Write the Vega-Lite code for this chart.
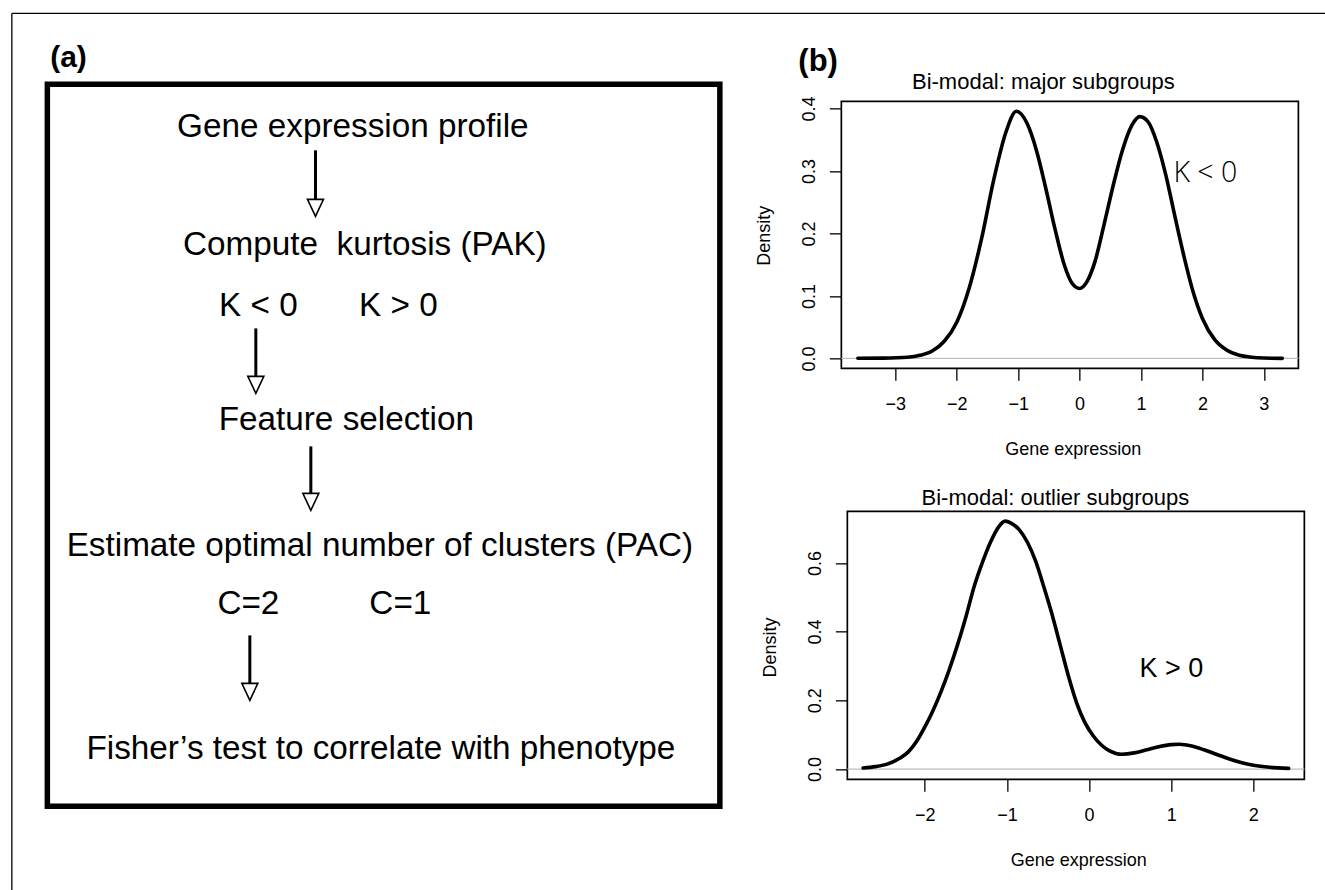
{
  "$schema": "https://vega.github.io/schema/vega-lite/v6.json",
  "background": "white",
  "padding": {"left": 10.35, "top": 12.35, "right": 0, "bottom": 0},
  "autosize": {"type": "pad"},
  "config": {
    "view": {"stroke": null},
    "font": "Liberation Sans",
    "text": {"font": "Liberation Sans", "color": "black"},
    "axis": {
      "domain": false, "grid": false, "ticks": true,
      "tickColor": "black", "tickWidth": 1.3, "tickSize": 12,
      "labelFont": "Liberation Sans", "labelFontSize": 18, "labelColor": "black",
      "labelOverlap": false, "labelFlush": false, "labelBound": false,
      "titleFont": "Liberation Sans", "titleFontSize": 18, "titleFontWeight": "normal", "titleColor": "black"
    },
    "axisX": {"labelBaseline": "alphabetic", "labelPadding": 29.5, "titleBaseline": "alphabetic", "titleAlign": "center", "titleY": 86.5},
    "axisY": {"labelAngle": 270, "labelAlign": "center", "labelBaseline": "alphabetic", "labelPadding": 15, "titleAngle": 270, "titleAlign": "center", "titleBaseline": "alphabetic", "titleX": -72}
  },
  "datasets": {
    "steps": [
      {"label": "Gene expression profile", "x": 45.43, "y": 7.27},
      {"label": "Compute\u00a0 kurtosis (PAK)", "x": 47.21, "y": 23.68},
      {"label": "K < 0", "x": 31.38, "y": 32.09},
      {"label": "K > 0", "x": 52.19, "y": 32.09},
      {"label": "Feature selection", "x": 44.46, "y": 47.92},
      {"label": "Estimate optimal number of clusters (PAC)", "x": 49.44, "y": 65.33},
      {"label": "C=2", "x": 29.89, "y": 73.41},
      {"label": "C=1", "x": 52.49, "y": 73.41},
      {"label": "Fisher’s test to correlate with phenotype", "x": 49.59, "y": 93.39}
    ],
    "arrows": [
      {"x": 39.87, "top": 9.14, "base": 15.93, "head": 17.11},
      {"x": 31.0, "top": 33.8, "base": 40.44, "head": 41.62},
      {"x": 39.18, "top": 50.14, "base": 56.65, "head": 57.83},
      {"x": 30.11, "top": 76.32, "base": 82.96, "head": 84.14}
    ],
    "top": [
      {"x": -3.61, "density": 0.0003}, {"x": -3.2, "density": 0.0006}, {"x": -2.8, "density": 0.002},
      {"x": -2.6, "density": 0.005}, {"x": -2.4, "density": 0.012}, {"x": -2.2, "density": 0.028},
      {"x": -2.0, "density": 0.058}, {"x": -1.8, "density": 0.112}, {"x": -1.6, "density": 0.19},
      {"x": -1.4, "density": 0.285}, {"x": -1.2, "density": 0.362}, {"x": -1.03, "density": 0.3955},
      {"x": -0.85, "density": 0.375}, {"x": -0.7, "density": 0.332}, {"x": -0.55, "density": 0.272},
      {"x": -0.4, "density": 0.207}, {"x": -0.25, "density": 0.15}, {"x": -0.12, "density": 0.12},
      {"x": 0.0, "density": 0.112}, {"x": 0.12, "density": 0.123}, {"x": 0.25, "density": 0.155},
      {"x": 0.4, "density": 0.215}, {"x": 0.55, "density": 0.278}, {"x": 0.7, "density": 0.334},
      {"x": 0.85, "density": 0.373}, {"x": 0.98, "density": 0.387}, {"x": 1.12, "density": 0.378},
      {"x": 1.25, "density": 0.348}, {"x": 1.4, "density": 0.295}, {"x": 1.55, "density": 0.228},
      {"x": 1.7, "density": 0.163}, {"x": 1.85, "density": 0.106}, {"x": 2.0, "density": 0.064},
      {"x": 2.2, "density": 0.03}, {"x": 2.4, "density": 0.013}, {"x": 2.6, "density": 0.005},
      {"x": 2.8, "density": 0.002}, {"x": 3.0, "density": 0.0007}, {"x": 3.3, "density": 0.0002}
    ],
    "bottom": [
      {"x": -2.75, "density": 0.003}, {"x": -2.6, "density": 0.007}, {"x": -2.45, "density": 0.015},
      {"x": -2.3, "density": 0.032}, {"x": -2.2, "density": 0.05}, {"x": -2.1, "density": 0.08},
      {"x": -2.0, "density": 0.122}, {"x": -1.9, "density": 0.17}, {"x": -1.8, "density": 0.226},
      {"x": -1.7, "density": 0.29}, {"x": -1.6, "density": 0.362}, {"x": -1.5, "density": 0.442},
      {"x": -1.4, "density": 0.53}, {"x": -1.3, "density": 0.6}, {"x": -1.2, "density": 0.66},
      {"x": -1.1, "density": 0.705}, {"x": -1.02, "density": 0.7215}, {"x": -0.95, "density": 0.716},
      {"x": -0.85, "density": 0.697}, {"x": -0.75, "density": 0.66}, {"x": -0.65, "density": 0.605},
      {"x": -0.55, "density": 0.53}, {"x": -0.45, "density": 0.45}, {"x": -0.35, "density": 0.36},
      {"x": -0.25, "density": 0.27}, {"x": -0.15, "density": 0.192}, {"x": -0.05, "density": 0.135},
      {"x": 0.05, "density": 0.097}, {"x": 0.15, "density": 0.07}, {"x": 0.25, "density": 0.053},
      {"x": 0.4, "density": 0.043}, {"x": 0.55, "density": 0.047}, {"x": 0.7, "density": 0.056},
      {"x": 0.85, "density": 0.065}, {"x": 1.0, "density": 0.071}, {"x": 1.1, "density": 0.072},
      {"x": 1.25, "density": 0.067}, {"x": 1.4, "density": 0.056}, {"x": 1.55, "density": 0.043},
      {"x": 1.7, "density": 0.03}, {"x": 1.85, "density": 0.019}, {"x": 2.0, "density": 0.011},
      {"x": 2.2, "density": 0.005}, {"x": 2.43, "density": 0.002}
    ]
  },
  "spacing": 121,
  "bounds": "flush",
  "hconcat": [
    {
      "width": 672.5,
      "height": 722,
      "layer": [
        {
          "data": {"values": [{}]},
          "mark": {"type": "rule", "color": "black", "strokeWidth": 1.3},
          "encoding": {
            "x": {"datum": -5.28, "type": "quantitative", "scale": {"domain": [0, 100], "nice": false, "zero": false}, "axis": null},
            "x2": {"datum": 250},
            "y": {"datum": -9.83, "type": "quantitative", "scale": {"domain": [0, 100], "nice": false, "zero": false, "reverse": true}, "axis": null}
          }
        },
        {
          "data": {"values": [{}]},
          "mark": {"type": "rule", "color": "black", "strokeWidth": 1.3},
          "encoding": {
            "x": {"datum": -5.28, "type": "quantitative", "scale": {"domain": [0, 100], "nice": false, "zero": false}, "axis": null},
            "y": {"datum": -9.83, "type": "quantitative", "scale": {"domain": [0, 100], "nice": false, "zero": false, "reverse": true}, "axis": null},
            "y2": {"datum": 140}
          }
        },
        {
          "data": {"values": [{}]},
          "mark": {"type": "rect", "fill": "white", "fillOpacity": 0, "stroke": "black", "strokeWidth": 5.5},
          "encoding": {
            "x": {"datum": 0, "type": "quantitative", "scale": {"domain": [0, 100], "nice": false, "zero": false}, "axis": null},
            "x2": {"datum": 100},
            "y": {"datum": 0, "type": "quantitative", "scale": {"domain": [0, 100], "nice": false, "zero": false, "reverse": true}, "axis": null},
            "y2": {"datum": 100}
          }
        },
        {
          "data": {"name": "steps"},
          "mark": {"type": "text", "fontSize": 33.3, "align": "center", "baseline": "alphabetic", "font": "Liberation Sans"},
          "encoding": {
            "x": {"field": "x", "type": "quantitative", "scale": {"domain": [0, 100], "nice": false, "zero": false}, "axis": null},
            "y": {"field": "y", "type": "quantitative", "scale": {"domain": [0, 100], "nice": false, "zero": false, "reverse": true}, "axis": null},
            "text": {"field": "label"}
          }
        },
        {
          "data": {"values": [{"label": "(a)"}]},
          "mark": {"type": "text", "fontSize": 30, "fontWeight": "bold", "align": "left", "baseline": "alphabetic", "font": "Liberation Sans"},
          "encoding": {
            "x": {"datum": 0.42, "type": "quantitative", "scale": {"domain": [0, 100], "nice": false, "zero": false}, "axis": null},
            "y": {"datum": -2.355, "type": "quantitative", "scale": {"domain": [0, 100], "nice": false, "zero": false, "reverse": true}, "axis": null},
            "text": {"field": "label"}
          }
        },
        {
          "data": {"name": "arrows"},
          "mark": {"type": "rule", "color": "black", "strokeWidth": 3},
          "encoding": {
            "x": {"field": "x", "type": "quantitative", "scale": {"domain": [0, 100], "nice": false, "zero": false}, "axis": null},
            "y": {"field": "top", "type": "quantitative", "scale": {"domain": [0, 100], "nice": false, "zero": false, "reverse": true}, "axis": null},
            "y2": {"field": "base"}
          }
        },
        {
          "data": {"name": "arrows"},
          "mark": {"type": "point", "shape": "M-1,-1.06L1,-1.06L0,1.06Z", "size": 256, "filled": true, "fill": "white", "stroke": "black", "strokeWidth": 1.6, "opacity": 1},
          "encoding": {
            "x": {"field": "x", "type": "quantitative", "scale": {"domain": [0, 100], "nice": false, "zero": false}, "axis": null},
            "y": {"field": "head", "type": "quantitative", "scale": {"domain": [0, 100], "nice": false, "zero": false, "reverse": true}, "axis": null}
          }
        }
      ]
    },
    {
      "spacing": 143,
      "bounds": "flush",
      "vconcat": [
        {
          "width": 463,
          "height": 284,
          "layer": [
            {
              "data": {"values": [{}]},
              "mark": {"type": "rect", "fill": "white", "fillOpacity": 0, "stroke": "black", "strokeWidth": 1.7},
              "encoding": {
                "x": {"datum": -3.879, "type": "quantitative"},
                "x2": {"datum": 3.562},
                "y": {"datum": -0.0158, "type": "quantitative"},
                "y2": {"datum": 0.4113}
              }
            },
            {
              "data": {"values": [{}]},
              "mark": {"type": "rule", "color": "#bebebe", "strokeWidth": 1.2},
              "encoding": {
                "x": {"datum": -3.879, "type": "quantitative"},
                "x2": {"datum": 3.562},
                "y": {"datum": 0, "type": "quantitative"}
              }
            },
            {
              "data": {"name": "top"},
              "mark": {"type": "line", "color": "black", "strokeWidth": 3.6, "interpolate": "monotone", "strokeCap": "round"},
              "encoding": {
                "x": {"field": "x", "type": "quantitative", "scale": {"domain": [-3.879, 3.659], "nice": false, "zero": false},
                      "axis": {"values": [-3, -2, -1, 0, 1, 2, 3], "format": "d", "title": "Gene expression", "titleX": 231.5}},
                "y": {"field": "density", "type": "quantitative", "scale": {"domain": [-0.0158, 0.4386], "nice": false, "zero": false},
                      "axis": {"values": [0, 0.1, 0.2, 0.3, 0.4], "format": ".1f", "title": "Density", "titleY": 151}}
              }
            },
            {
              "data": {"values": [{"label": "Bi-modal: major subgroups"}]},
              "mark": {"type": "text", "fontSize": 22, "align": "center", "baseline": "alphabetic"},
              "encoding": {
                "x": {"datum": -0.59, "type": "quantitative"},
                "y": {"datum": 0.4317, "type": "quantitative"},
                "text": {"field": "label"}
              }
            },
            {
              "data": {"values": [{"label": "K < 0"}]},
              "mark": {"type": "text", "fontSize": 28.5, "align": "center", "baseline": "alphabetic", "font": "Open Sans", "fontWeight": 300},
              "encoding": {
                "x": {"datum": 2.047, "type": "quantitative"},
                "y": {"datum": 0.2822, "type": "quantitative"},
                "text": {"field": "label"}
              }
            },
            {
              "data": {"values": [{"label": "(b)"}]},
              "mark": {"type": "text", "fontSize": 31, "fontWeight": "bold", "align": "left", "baseline": "alphabetic"},
              "encoding": {
                "x": {"datum": -4.579, "type": "quantitative"},
                "y": {"datum": 0.4598, "type": "quantitative"},
                "text": {"field": "label"}
              }
            }
          ]
        },
        {
          "width": 463,
          "height": 268,
          "layer": [
            {
              "data": {"values": [{}]},
              "mark": {"type": "rect", "fill": "white", "fillOpacity": 0, "stroke": "black", "strokeWidth": 1.7},
              "encoding": {
                "x": {"datum": -2.942, "type": "quantitative"},
                "x2": {"datum": 2.621},
                "y": {"datum": -0.03, "type": "quantitative"},
                "y2": {"datum": 0.75}
              }
            },
            {
              "data": {"values": [{}]},
              "mark": {"type": "rule", "color": "#bebebe", "strokeWidth": 1.2},
              "encoding": {
                "x": {"datum": -2.942, "type": "quantitative"},
                "x2": {"datum": 2.621},
                "y": {"datum": 0, "type": "quantitative"}
              }
            },
            {
              "data": {"name": "bottom"},
              "mark": {"type": "line", "color": "black", "strokeWidth": 3.6, "interpolate": "monotone", "strokeCap": "round"},
              "encoding": {
                "x": {"field": "x", "type": "quantitative", "scale": {"domain": [-3.015, 2.621], "nice": false, "zero": false},
                      "axis": {"values": [-2, -1, 0, 1, 2], "format": "d", "title": "Gene expression", "titleX": 237}},
                "y": {"field": "density", "type": "quantitative", "scale": {"domain": [-0.03, 0.75], "nice": false, "zero": false},
                      "axis": {"values": [0, 0.1, 0.2, 0.3, 0.4, 0.5, 0.6, 0.7], "labelExpr": "round(datum.value * 10) % 2 == 0 ? format(datum.value, '.1f') : ''", "title": "Density", "titleY": 135.7, "offset": -6}}
              }
            },
            {
              "data": {"values": [{"label": "Bi-modal: outlier subgroups"}]},
              "mark": {"type": "text", "fontSize": 22, "align": "center", "baseline": "alphabetic"},
              "encoding": {
                "x": {"datum": -0.41, "type": "quantitative"},
                "y": {"datum": 0.7675, "type": "quantitative"},
                "text": {"field": "label"}
              }
            },
            {
              "data": {"values": [{"label": "K > 0"}]},
              "mark": {"type": "text", "fontSize": 27, "align": "center", "baseline": "alphabetic"},
              "encoding": {
                "x": {"datum": 1.002, "type": "quantitative"},
                "y": {"datum": 0.2678, "type": "quantitative"},
                "text": {"field": "label"}
              }
            }
          ]
        }
      ]
    }
  ]
}
